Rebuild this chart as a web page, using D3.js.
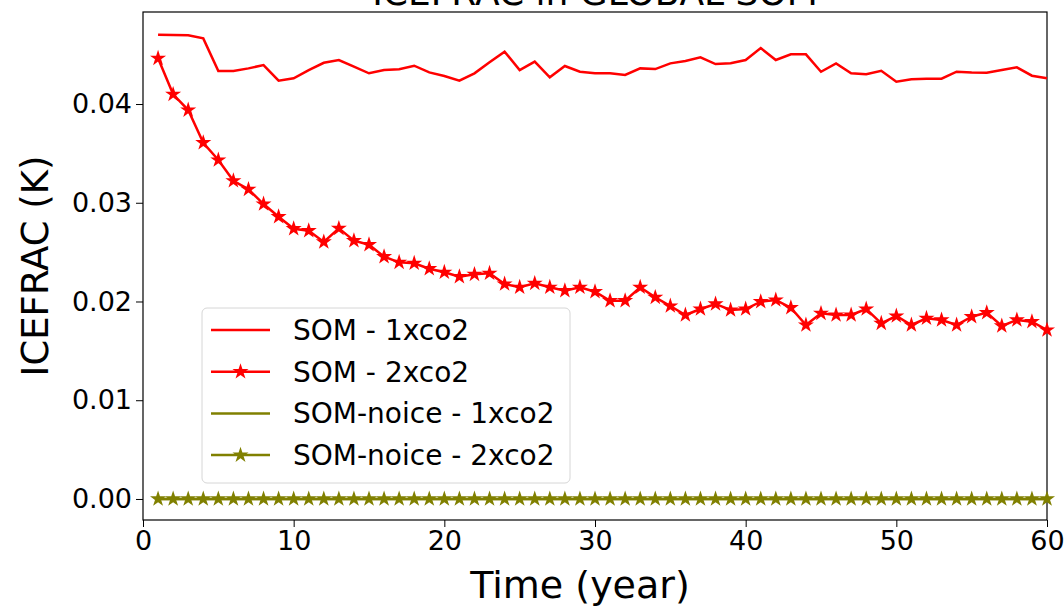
<!DOCTYPE html>
<html>
<head>
<meta charset="utf-8">
<script src="https://cdn.jsdelivr.net/npm/d3@7"></script>
<style>
  body { margin: 0; background: #fff; }
  svg text { font-family: "DejaVu Sans", sans-serif; fill: #000; }
  .tick line { stroke: #000; }
  .domain { display: none; }
</style>
</head>
<body>
<svg id="chart" width="1064" height="607"></svg>
<script>
// years on the x axis
const years = d3.range(1, 61);

// SOM - 1xco2
const som1x = [
  0.04702, 0.04699, 0.04696, 0.04665, 0.04334, 0.04334, 0.04361, 0.04395, 0.04236, 0.04260,
  0.04344, 0.04418, 0.04446, 0.04378, 0.04311, 0.04345, 0.04352, 0.04388, 0.04320, 0.04284,
  0.04236, 0.04311, 0.04422, 0.04530, 0.04344, 0.04429, 0.04270, 0.04385, 0.04327, 0.04311,
  0.04311, 0.04294, 0.04361, 0.04354, 0.04412, 0.04435, 0.04473, 0.04405, 0.04412, 0.04446,
  0.04567, 0.04446, 0.04503, 0.04503, 0.04327, 0.04412, 0.04311, 0.04301, 0.04337, 0.04226,
  0.04250, 0.04256, 0.04256, 0.04327, 0.04320, 0.04317, 0.04344, 0.04372, 0.04287, 0.04260
];

// SOM - 2xco2
const som2x = [
  0.04463, 0.04098, 0.03939, 0.03608, 0.03433, 0.03223, 0.03136, 0.02987, 0.02859, 0.02737,
  0.02717, 0.02603, 0.02741, 0.02616, 0.02575, 0.02454, 0.02397, 0.02387, 0.02332, 0.02296,
  0.02251, 0.02275, 0.02286, 0.02177, 0.02144, 0.02184, 0.02144, 0.02109, 0.02144, 0.02099,
  0.02008, 0.02008, 0.02144, 0.02042, 0.01954, 0.01863, 0.01924, 0.01975, 0.01914, 0.01924,
  0.01998, 0.02015, 0.01937, 0.01762, 0.01880, 0.01863, 0.01863, 0.01924, 0.01779, 0.01853,
  0.01762, 0.01830, 0.01813, 0.01762, 0.01846, 0.01887, 0.01752, 0.01813, 0.01796, 0.01711
];

// the no-ice runs stay flat at zero
const noice1x = years.map(() => 0);
const noice2x = years.map(() => 0);

const xTicks = [0, 10, 20, 30, 40, 50, 60];
const yTicks = [0.00, 0.01, 0.02, 0.03, 0.04];

const series = [
  { name: 'SOM - 1xco2',       values: som1x,   color: '#ff0000', star: false },
  { name: 'SOM - 2xco2',       values: som2x,   color: '#ff0000', star: true },
  { name: 'SOM-noice - 1xco2', values: noice1x, color: '#808000', star: false },
  { name: 'SOM-noice - 2xco2', values: noice2x, color: '#808000', star: true }
];

const svg = d3.select('#chart');
const plot = { left: 143, right: 1047, top: 12, bottom: 520 };

const x = d3.scaleLinear().domain([0, 60]).range([plot.left, plot.right]);
const y = d3.scaleLinear().domain([-0.00213, 0.04932]).range([plot.bottom, plot.top]);

// axes
svg.append('g')
    .attr('transform', `translate(0,${plot.bottom})`)
    .call(d3.axisBottom(x).tickValues(xTicks).tickFormat(d3.format('d')).tickSize(7).tickPadding(4))
    .call(g => g.selectAll('text').style('font-size', '27px'));

svg.append('g')
    .attr('transform', `translate(${plot.left},0)`)
    .call(d3.axisLeft(y).tickValues(yTicks).tickFormat(d3.format('.2f')).tickSize(7).tickPadding(4))
    .call(g => g.selectAll('text').style('font-size', '27px'));

// frame
svg.append('rect')
    .attr('x', plot.left).attr('y', plot.top)
    .attr('width', plot.right - plot.left).attr('height', plot.bottom - plot.top)
    .attr('fill', 'none').attr('stroke', '#000').attr('stroke-width', 1.2);

// lines and markers
const line = d3.line()
    .x((d, i) => x(years[i]))
    .y(d => y(d));
const star = d3.symbol().type(d3.symbolStar).size(80);

const marks = svg.append('g');
series.forEach(s => {
  marks.append('path')
      .attr('d', line(s.values))
      .attr('fill', 'none')
      .attr('stroke', s.color)
      .attr('stroke-width', 2.5);
  if (s.star) {
    marks.selectAll(null)
        .data(s.values)
        .enter().append('path')
        .attr('d', star)
        .attr('transform', (d, i) => `translate(${x(years[i])},${y(d)})`)
        .attr('fill', s.color);
  }
});

// legend
const legend = svg.append('g').attr('transform', 'translate(202,308)');
legend.append('rect')
    .attr('width', 368).attr('height', 175)
    .attr('rx', 5)
    .attr('fill', '#fff').attr('fill-opacity', 0.8)
    .attr('stroke', '#d6d6d6');
series.forEach((s, i) => {
  const ly = 22 + i * 41.7;
  legend.append('line')
      .attr('x1', 9).attr('x2', 68).attr('y1', ly).attr('y2', ly)
      .attr('stroke', s.color).attr('stroke-width', 2.5);
  if (s.star) {
    legend.append('path')
        .attr('d', star)
        .attr('transform', `translate(38.5,${ly})`)
        .attr('fill', s.color);
  }
  legend.append('text')
      .attr('x', 91).attr('y', ly)
      .attr('dy', '0.35em')
      .style('font-size', '28px')
      .text(s.name);
});

// titles (the title sits mostly above the picture, as in the source)
svg.append('text')
    .attr('x', (plot.left + plot.right) / 2).attr('y', 5)
    .attr('text-anchor', 'middle')
    .style('font-size', '36px')
    .text('ICEFRAC in GLOBAL SOM');

svg.append('text')
    .attr('x', 580).attr('y', 598)
    .attr('text-anchor', 'middle')
    .style('font-size', '38px')
    .text('Time (year)');

svg.append('text')
    .attr('transform', `translate(48,${(plot.top + plot.bottom) / 2}) rotate(-90)`)
    .attr('text-anchor', 'middle')
    .style('font-size', '37px')
    .text('ICEFRAC (K)');
</script>
</body>
</html>
